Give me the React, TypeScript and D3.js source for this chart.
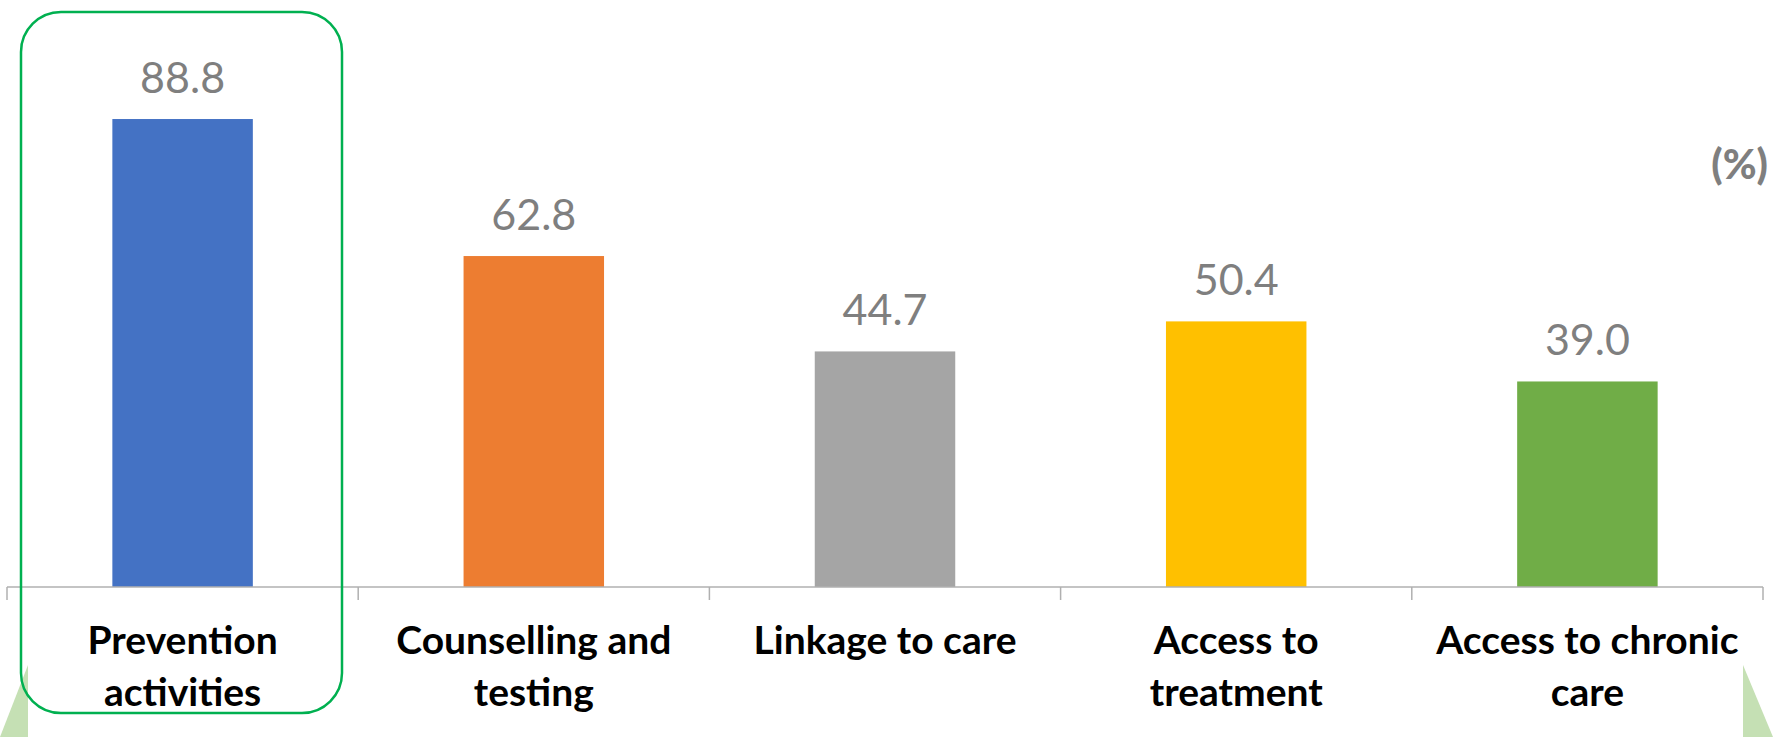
import * as d3 from "d3";

// chart data
const categories = [
  "Prevention activities",
  "Counselling and testing",
  "Linkage to care",
  "Access to treatment",
  "Access to chronic care",
];
const labelLines = [
  ["Prevention", "activities"],
  ["Counselling and", "testing"],
  ["Linkage to care"],
  ["Access to", "treatment"],
  ["Access to chronic", "care"],
];
const values = [88.8, 62.8, 44.7, 50.4, 39.0];
const colors = ["#4472c4", "#ed7d31", "#a5a5a5", "#ffc000", "#70ad47"];

const W = 1773;
const H = 737;
const margin = { left: 7, right: 10, top: 60, baseline: 587 };
const font = "Lato, 'Noto Sans', sans-serif";

export default function App() {
  const x = d3
    .scaleBand<string>()
    .domain(categories)
    .range([margin.left, W - margin.right])
    .padding(0);

  const y = d3.scaleLinear().domain([0, 100]).range([margin.baseline, margin.top]);

  const barW = x.bandwidth() * 0.4;
  const tickXs = [...categories.map((c) => x(c)!), W - margin.right];

  return (
    <div style={{ position: "absolute", left: 0, top: 0 }}>
      <svg width={W} height={H} style={{ display: "block" }}>
        <rect width={W} height={H} fill="#fff" />

        {/* decorative triangles at bottom corners */}
        <path d="M28,665 L28,737 L0,737 Z" fill="#c5e0b4" />
        <path d="M1743,665 L1743,737 L1773,737 Z" fill="#c5e0b4" />

        {/* bars */}
        {categories.map((c, i) => (
          <rect
            key={c}
            x={x(c)! + (x.bandwidth() - barW) / 2}
            y={y(values[i])}
            width={barW}
            height={y(0) - y(values[i])}
            fill={colors[i]}
          />
        ))}

        {/* axis line + ticks */}
        <line
          x1={margin.left}
          x2={W - margin.right}
          y1={y(0)}
          y2={y(0)}
          stroke="#b0b0b0"
          strokeWidth={1.5}
        />
        {tickXs.map((tx, i) => (
          <line key={i} x1={tx} x2={tx} y1={y(0)} y2={y(0) + 13} stroke="#b0b0b0" strokeWidth={1.5} />
        ))}

        {/* value labels */}
        {categories.map((c, i) => (
          <text
            key={c}
            x={x(c)! + x.bandwidth() / 2}
            y={y(values[i]) - 26}
            textAnchor="middle"
            fontFamily={font}
            fontSize={43}
            fill="#7f7f7f"
          >
            {values[i].toFixed(1)}
          </text>
        ))}

        {/* category labels */}
        {categories.map((c, i) => (
          <text
            key={c}
            x={x(c)! + x.bandwidth() / 2}
            y={654}
            textAnchor="middle"
            fontFamily={font}
            fontSize={39}
            fontWeight="bold"
            fill="#000"
          >
            {labelLines[i].map((l, j) => (
              <tspan key={j} x={x(c)! + x.bandwidth() / 2} dy={j === 0 ? 0 : 52}>
                {l}
              </tspan>
            ))}
          </text>
        ))}

        {/* unit */}
        <text
          x={1768}
          y={179}
          textAnchor="end"
          fontFamily={font}
          fontSize={41}
          fontWeight="900"
          fill="#7f7f7f"
        >
          (%)
        </text>

        {/* highlight box */}
        <rect
          x={21}
          y={12}
          width={321}
          height={701}
          rx={40}
          ry={40}
          fill="none"
          stroke="#00b050"
          strokeWidth={2.5}
        />
      </svg>
    </div>
  );
}
